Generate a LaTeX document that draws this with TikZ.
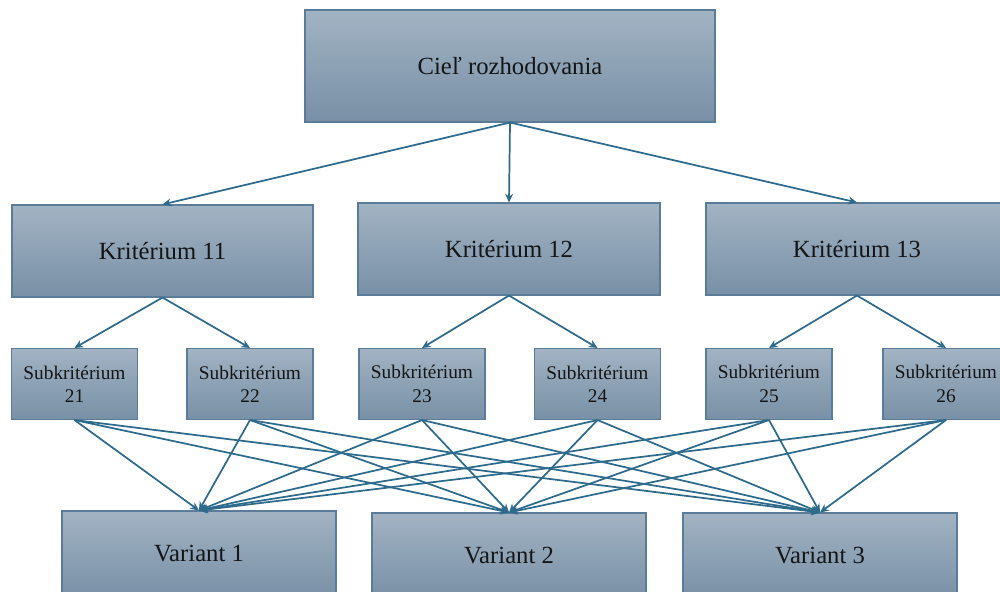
\documentclass[tikz,border=0pt]{standalone}
\usepackage{fontspec}
\setmainfont{Liberation Serif}
\usetikzlibrary{arrows.meta}
\definecolor{boxtop}{HTML}{A2B3C3}
\definecolor{boxbot}{HTML}{7890A6}
\definecolor{boxline}{HTML}{5A7C98}
\definecolor{link}{HTML}{2E6A8C}
\definecolor{ink}{HTML}{151515}
\tikzset{
  box/.style 2 args={draw=boxline, line width=0.8pt, top color=boxtop, bottom color=boxbot,
    minimum width=#1*0.75pt, minimum height=#2*0.75pt, inner sep=0pt, text=ink, align=center},
  big/.style={font=\fontsize{18.5}{22}\selectfont},
  small/.style={font=\fontsize{14.5}{17.5}\selectfont},
  link/.style={draw=link, line width=1.3pt, -{Stealth[length=6.5pt,width=6pt]}}
}
\begin{document}
\begin{tikzpicture}[x=0.75pt, y=-0.75pt]
\useasboundingbox (0,0) rectangle (1000,592);
\clip (0,0) rectangle (1000,592);
% goal
\node[box={410}{112}, big] (goal) at (510,66) {Cieľ rozhodovania};
% criteria
\node[box={301}{92}, big] (k11) at (162.5,251) {Kritérium 11};
\node[box={302}{92}, big] (k12) at (509,249) {Kritérium 12};
\node[box={302}{92}, big] (k13) at (857,249) {Kritérium 13};
% sub-criteria
\node[box={126}{71}, small] (s21) at (74.5,384) {Subkritérium\\21};
\node[box={126}{71}, small] (s22) at (250,384) {Subkritérium\\22};
\node[box={126}{71}, small] (s23) at (422,384) {Subkritérium\\23};
\node[box={126}{71}, small] (s24) at (597.5,384) {Subkritérium\\24};
\node[box={126}{71}, small] (s25) at (769,384) {Subkritérium\\25};
\node[box={126}{71}, small] (s26) at (946,384) {Subkritérium\\26};
% variants
\node[box={274}{86}, big] (v1) at (199,554) {Variant 1};
\node[box={274}{86}, big] (v2) at (509,556) {Variant 2};
\node[box={274}{86}, big] (v3) at (820,556) {Variant 3};
% goal -> criteria
\foreach \k in {k11,k12,k13} \draw[link] (goal.south) -- (\k.north);
% criteria -> sub-criteria
\draw[link] (k11.south) -- (s21.north);
\draw[link] (k11.south) -- (s22.north);
\draw[link] (k12.south) -- (s23.north);
\draw[link] (k12.south) -- (s24.north);
\draw[link] (k13.south) -- (s25.north);
\draw[link] (k13.south) -- (s26.north);
% sub-criteria -> variants
\foreach \s in {s21,s22,s23,s24,s25,s26}
  \foreach \v in {v1,v2,v3}
    \draw[link] (\s.south) -- (\v.north);
\end{tikzpicture}
\end{document}
